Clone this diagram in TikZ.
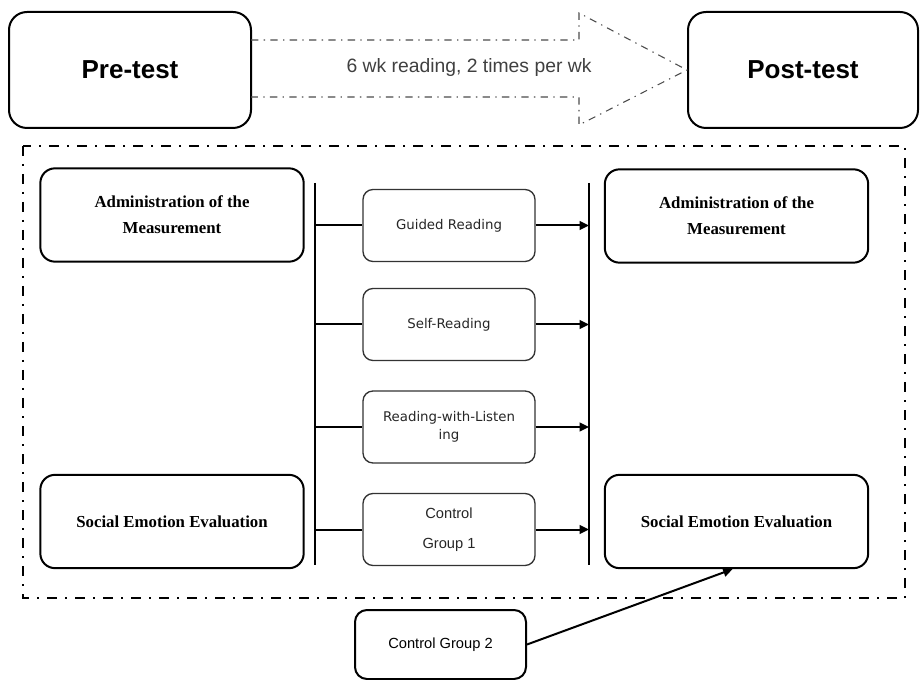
\documentclass[tikz,border=0pt]{standalone}
\usepackage{fontspec}
\setmainfont{Liberation Serif}
\newfontfamily\arialfont{Liberation Sans}
\newfontfamily\verdfont{DejaVu Sans}
\usepackage{tikz}
\usetikzlibrary{calc}
\usetikzlibrary{arrows.meta}

\begin{document}
\begin{tikzpicture}[x=0.75pt,y=-0.75pt,
                testbox/.style={draw,line width=1.5pt,rounded corners=13.5pt,minimum width=#1,minimum height=87pt,inner sep=0pt,font=\arialfont\bfseries\fontsize{19.5}{22}\selectfont},
                bigbox/.style={draw,line width=1.5pt,rounded corners=11pt,minimum width=197.5pt,minimum height=70pt,inner sep=0pt,align=center,font=\bfseries\fontsize{12.6}{19.5}\selectfont},
                readbox/.style={draw=black!80,line width=1pt,rounded corners=7.5pt,minimum width=129pt,minimum height=54pt,inner sep=0pt,align=center,text=black!85,font=\verdfont\fontsize{10}{13.5}\selectfont},
                ctrlbox/.style={readbox,font=\arialfont\fontsize{11}{22.5}\selectfont},
                conn/.style={line width=1.5pt},
                arr/.style={conn,-{Triangle[length=7pt,width=6.5pt]}}]
                \useasboundingbox (0,0) rectangle (920,680);

                \node[testbox=181.5pt] (pretest) at (130,70) {Pre-test};
                \node[testbox=172.5pt] (posttest) at (803,70) {Post-test};

                \coordinate (shaftA) at (251,40);
                \coordinate (headA) at (579,40);
                \coordinate (headTop) at (579,13);
                \coordinate (headBot) at (579,125);
                \coordinate (headB) at (579,97);
                \coordinate (shaftB) at (251,97);

                \draw[black!70,line width=0.8pt,dash pattern=on 5.5pt off 4pt on 1pt off 4pt] (shaftA) -- (headA) -- (headTop) -- (posttest.west) -- (headBot) -- (headB) -- (shaftB);
                \node[font=\arialfont\fontsize{14.5}{17}\selectfont,text=black!75] (plan) at (469,68) {6 wk reading, 2 times per wk};

                \draw[line width=1.9pt,dash pattern=on 7.5pt off 6pt on 1.5pt off 6pt] (23,146) rectangle (905,598);

                \node[bigbox] (admL) at (172,215) {Administration of the\\Measurement};
                \node[bigbox] (seeL) at (172,521.5) {Social Emotion Evaluation};
                \node[bigbox] (admR) at (736.5,216) {Administration of the\\Measurement};
                \node[bigbox] (seeR) at (736.5,521.5) {Social Emotion Evaluation};

                \node[readbox] (guided) at (449,225.5) {Guided Reading};
                \node[readbox] (selfread) at (449,324.5) {Self-Reading};
                \node[readbox] (listen) at (449,427) {Reading-with-Listen\\ing};
                \node[ctrlbox] (ctrlA) at (449,529.5) {Control\\Group 1};

                \coordinate (ltop) at (315,183);
                \coordinate (lbot) at (315,565);
                \coordinate (rtop) at (589,183);
                \coordinate (rbot) at (589,565);

                \draw[conn] (ltop) -- (lbot);
                \draw[conn] (rtop) -- (rbot);

                \foreach \grp in {guided,selfread,listen,ctrlA}{
                    \draw[conn] (\grp.west -| ltop) -- (\grp.west);
                    \draw[arr] (\grp.east) -- (\grp.east -| rtop);
                }

                \node[draw,line width=1.5pt,rounded corners=9pt,minimum width=128.25pt,minimum height=51.75pt,inner sep=0pt,font=\arialfont\fontsize{11}{13}\selectfont] (ctrlB) at (440.5,644.5) {Control Group 2};

                \draw[arr] (ctrlB.east) -- ([xshift=-3pt]seeR.south);
            \end{tikzpicture}
\end{document}
